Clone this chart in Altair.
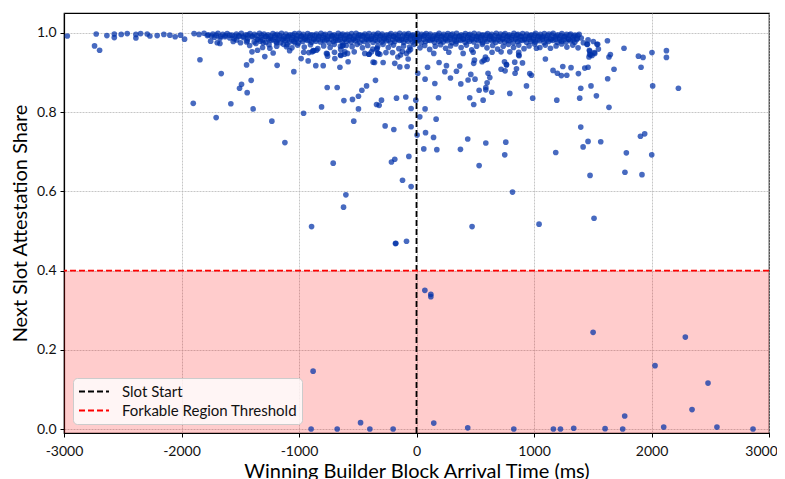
import altair as alt
import pandas as pd

FONT = "Lato"
X_LIMITS = [-3000, 3000]
Y_LIMITS = [-0.01, 1.05]
X_TICKS = [-3000, -2000, -1000, 0, 1000, 2000, 3000]
Y_TICKS = [0.0, 0.2, 0.4, 0.6, 0.8, 1.0]
SLOT_START = 0
FORK_THRESHOLD = 0.4
LEGEND_LABELS = ["Slot Start", "Forkable Region Threshold"]
X_TITLE = "Winning Builder Block Arrival Time (ms)"
Y_TITLE = "Next Slot Attestation Share"

# early arrivals (left tail near 1.0)
tail_pts = [(-2972, 0.992), (-2726, 0.997), (-2740, 0.967), (-2697, 0.956), (-2635, 0.993),
            (-2572, 0.997), (-2572, 0.988), (-2513, 0.996), (-2462, 0.998), (-2388, 0.996),
            (-2388, 0.987), (-2348, 0.998), (-2292, 0.997), (-2269, 0.992), (-2207, 0.993),
            (-2150, 0.996), (-2099, 0.994), (-2054, 0.990), (-2008, 0.994), (-1974, 0.984),
            (-1752, 0.979), (-1696, 0.975), (-1673, 0.973), (-1531, 0.982), (-1446, 0.977),
            (-1367, 0.973), (-1305, 0.975), (-1191, 0.975), (-1101, 0.970), (-1035, 0.975)]

# scattered points before slot start
left_pts = [(-1843, 0.932), (-1662, 0.897), (-1506, 0.860), (-1489, 0.870), (-1900, 0.822),
            (-1580, 0.821), (-1705, 0.786), (-1446, 0.919), (-1404, 0.930), (-1441, 0.849),
            (-1407, 0.880), (-1390, 0.808), (-1353, 0.956), (-1291, 0.940), (-1248, 0.961),
            (-1231, 0.777), (-1186, 0.918), (-1120, 0.723), (-1106, 0.965), (-1044, 0.902),
            (-982, 0.935), (-961, 0.797), (-922, 0.929), (-893, 0.511), (-880, 0.955),
            (-851, 0.956), (-857, 0.917), (-808, 0.813), (-794, 0.917), (-760, 0.862),
            (-766, 0.948), (-757, 0.941), (-709, 0.671), (-698, 0.951), (-695, 0.935),
            (-675, 0.862), (-652, 0.913), (-644, 0.943), (-630, 0.967), (-618, 0.829),
            (-621, 0.560), (-601, 0.591), (-610, 0.952), (-587, 0.948), (-582, 0.927),
            (-545, 0.832), (-534, 0.777), (-494, 0.840), (-494, 0.808), (-465, 0.855),
            (-425, 0.866), (-403, 0.946), (-369, 0.926), (-349, 0.880), (-340, 0.819),
            (-318, 0.817), (-335, 0.961), (-327, 0.948), (-312, 0.946), (-298, 0.830),
            (-267, 0.765), (-284, 0.925), (-213, 0.674), (-185, 0.681), (-176, 0.469),
            (-193, 0.756), (-170, 0.835), (-204, 0.950), (-185, 0.923), (-916, 0.950),
            (-888, 0.952), (-874, 0.955), (-647, 0.966), (-624, 0.969), (-647, 0.944),
            (-613, 0.946), (-440, 0.948), (-406, 0.946), (-383, 0.952), (-340, 0.958),
            (-329, 0.948), (-357, 0.925), (-159, 0.939), (-136, 0.944), (-85, 0.948),
            (-65, 0.954), (-51, 0.958), (-142, 0.914), (-80, 0.915), (-71, 0.934),
            (-91, 0.838), (-46, 0.809), (-46, 0.763), (-6, 0.830), (5, 0.742), (11, 0.898),
            (-65, 0.688), (-119, 0.628), (-46, 0.612), (62, 0.707), (-179, 0.468), (-85, 0.474),
            (-1400, 0.952), (-1220, 0.949), (-1080, 0.955), (-960, 0.951), (-760, 0.947),
            (-530, 0.952), (-260, 0.950), (-120, 0.953)]

# scattered points after slot start
right_pts = [(28, 0.788), (73, 0.808), (77, 0.748), (145, 0.736), (167, 0.782), (173, 0.705),
             (187, 0.836), (156, 0.872), (73, 0.883), (94, 0.913), (192, 0.925), (241, 0.902),
             (255, 0.917), (289, 0.886), (340, 0.903), (368, 0.916), (377, 0.871), (374, 0.706),
             (436, 0.732), (439, 0.881), (453, 0.836), (462, 0.895), (473, 0.511), (487, 0.819),
             (498, 0.883), (533, 0.855), (533, 0.665), (567, 0.830), (590, 0.862), (590, 0.856),
             (601, 0.874), (609, 0.898), (590, 0.722), (624, 0.887), (641, 0.850), (558, 0.927),
             (575, 0.931), (720, 0.908), (751, 0.692), (760, 0.724), (754, 0.904), (766, 0.919),
             (794, 0.847), (817, 0.598), (839, 0.898), (851, 0.909), (836, 0.926), (870, 0.951),
             (873, 0.942), (902, 0.924), (936, 0.866), (964, 0.897), (978, 0.893), (989, 0.835),
             (1021, 0.961), (1043, 0.517), (1097, 0.934), (1162, 0.905), (1185, 0.698),
             (1194, 0.830), (1199, 0.898), (1233, 0.892), (1245, 0.915), (1279, 0.893),
             (1315, 0.912), (1378, 0.897), (1389, 0.835), (1398, 0.860), (1398, 0.762),
             (1418, 0.712), (1432, 0.911), (1460, 0.913), (1455, 0.971), (1460, 0.726),
             (1477, 0.640), (1485, 0.866), (1511, 0.532), (1531, 0.841), (1474, 0.954),
             (1480, 0.944), (1468, 0.939), (1517, 0.948), (1542, 0.971), (1548, 0.959),
             (1568, 0.725), (1627, 0.884), (1638, 0.812), (1625, 0.980), (1638, 0.939),
             (1650, 0.945), (1681, 0.908), (1766, 0.961), (1774, 0.648), (1786, 0.697),
             (1889, 0.941), (1928, 0.938), (1911, 0.913), (1906, 0.739), (1942, 0.745),
             (1919, 0.642), (2004, 0.950), (2002, 0.692), (2010, 0.866), (2127, 0.955),
             (2127, 0.938), (2229, 0.860), (1451, 0.971), (1536, 0.971), (1471, 0.956),
             (1474, 0.946), (1494, 0.943), (1514, 0.950), (487, 0.923), (493, 0.931),
             (587, 0.939), (601, 0.933), (749, 0.927), (766, 0.920), (147, 0.948), (275, 0.951),
             (397, 0.948), (482, 0.951), (643, 0.951), (720, 0.952), (794, 0.952), (870, 0.944)]

# points inside the forkable region
fork_pts = [(-880, 0.146), (-897, 0.0), (-675, 0.0), (-476, 0.016), (-397, 0.0), (-199, 0.0),
            (71, 0.350), (122, 0.340), (122, 0.334), (147, 0.015), (436, 0.003), (828, 0.0),
            (1165, 0.0), (1225, 0.0), (1338, 0.002), (1503, 0.244), (1605, 0.001), (1755, 0.0),
            (1772, 0.033), (2030, 0.160), (2104, 0.005), (2288, 0.232), (2345, 0.049),
            (2481, 0.116), (2557, 0.005), (2864, 0.0)]

# dense band near full attestation
band_a_x = [-1893, -1851, -1808, -1772, -1733, -1690, -1649, -1611, -1570, -1533,
            -1491, -1452, -1417, -1379, -1336, -1298, -1263, -1222, -1186, -1149,
            -1111, -1076, -1037, -999, -964, -926, -887, -852, -813, -777,
            -738, -701, -666, -628, -589, -553, -514, -479, -440, -404,
            -365, -328, -292, -253, -218, -179, -143, -104, -69, -30,
            7, 43, 82, 117, 157, 192, 231, 267, 306, 341,
            381, 416, 455, 491, 530, 565, 605, 640, 679, 715,
            754, 789, 829, 864, 903, 939, 978, 1013, 1053, 1088,
            1127, 1163, 1202, 1237, 1277, 1312, 1349, 1384]
band_a_y = [0.998, 0.996, 0.999, 0.995, 0.997, 0.999, 0.996, 0.998, 0.994, 0.997,
            0.999, 0.995, 0.998, 0.996, 0.999, 0.997, 0.995, 0.998, 0.996, 0.999,
            0.997, 0.995, 0.998, 0.999, 0.996, 0.998, 0.995, 0.997, 0.999, 0.996,
            0.998, 0.995, 0.999, 0.997, 0.996, 0.998, 0.999, 0.995, 0.997, 0.998,
            0.996, 0.999, 0.997, 0.995, 0.998, 0.996, 0.999, 0.997, 0.998, 0.995,
            0.999, 0.996, 0.998, 0.997, 0.995, 0.999, 0.996, 0.998, 0.997, 0.999,
            0.995, 0.998, 0.996, 0.999, 0.997, 0.995, 0.998, 0.996, 0.999, 0.997,
            0.998, 0.995, 0.999, 0.996, 0.998, 0.997, 0.995, 0.999, 0.996, 0.998,
            0.997, 0.999, 0.995, 0.998, 0.996, 0.997, 0.994, 0.996]
band_e_x = [-1780, -1745, -1706, -1668, -1628, -1590, -1548, -1512, -1472, -1434,
            -1396, -1357, -1318, -1280, -1242, -1203, -1166, -1128, -1091, -1053,
            -1016, -978, -941, -904, -866, -829, -791, -754, -717, -679,
            -642, -604, -567, -530, -492, -455, -417, -380, -343, -305,
            -268, -230, -193, -156, -118, -81, -43, -6, 31, 69,
            106, 144, 181, 218, 256, 293, 331, 368, 405, 443,
            480, 518, 555, 592, 630, 667, 705, 742, 779, 817,
            854, 892, 929, 966, 1004, 1041, 1079, 1116, 1153, 1191,
            1228, 1266, 1303, 1340, 1372]
band_e_y = [0.993, 0.992, 0.994, 0.991, 0.993, 0.994, 0.992, 0.993, 0.991, 0.994,
            0.992, 0.993, 0.994, 0.991, 0.992, 0.994, 0.993, 0.991, 0.992, 0.994,
            0.993, 0.992, 0.991, 0.994, 0.993, 0.992, 0.994, 0.991, 0.993, 0.992,
            0.994, 0.993, 0.991, 0.992, 0.994, 0.993, 0.992, 0.991, 0.994, 0.993,
            0.992, 0.994, 0.991, 0.993, 0.992, 0.994, 0.993, 0.991, 0.992, 0.994,
            0.993, 0.991, 0.994, 0.992, 0.993, 0.994, 0.991, 0.992, 0.993, 0.994,
            0.992, 0.991, 0.993, 0.994, 0.992, 0.993, 0.991, 0.994, 0.992, 0.993,
            0.994, 0.991, 0.992, 0.993, 0.994, 0.992, 0.991, 0.993, 0.994, 0.992,
            0.993, 0.991, 0.994, 0.992, 0.993]
band_b_x = [-1718, -1672, -1630, -1589, -1551, -1510, -1473, -1436, -1397, -1357,
            -1320, -1281, -1243, -1205, -1168, -1130, -1094, -1056, -1019, -982,
            -945, -907, -870, -832, -795, -757, -720, -683, -646, -609,
            -571, -534, -497, -459, -422, -385, -347, -310, -272, -235,
            -198, -161, -123, -86, -49, -12, 25, 62, 100, 137,
            174, 212, 249, 287, 324, 361, 399, 436, 473, 511,
            548, 585, 623, 660, 697, 735, 772, 809, 847, 884,
            921, 959, 996, 1033, 1071, 1108, 1145, 1183, 1220, 1258,
            1295, 1332, 1369, 1402]
band_b_y = [0.989, 0.986, 0.990, 0.987, 0.985, 0.991, 0.988, 0.986, 0.990, 0.984,
            0.988, 0.991, 0.986, 0.989, 0.987, 0.985, 0.990, 0.988, 0.986, 0.991,
            0.987, 0.989, 0.985, 0.990, 0.988, 0.986, 0.991, 0.987, 0.989, 0.985,
            0.990, 0.986, 0.988, 0.991, 0.987, 0.985, 0.989, 0.990, 0.986, 0.988,
            0.991, 0.987, 0.985, 0.989, 0.990, 0.986, 0.988, 0.991, 0.987, 0.985,
            0.989, 0.990, 0.986, 0.988, 0.987, 0.991, 0.985, 0.989, 0.986, 0.990,
            0.988, 0.987, 0.991, 0.985, 0.989, 0.986, 0.990, 0.988, 0.987, 0.991,
            0.985, 0.989, 0.986, 0.990, 0.988, 0.987, 0.985, 0.989, 0.986, 0.990,
            0.984, 0.988, 0.986, 0.987]
band_f_x = [-1350, -1310, -1262, -1224, -1180, -1140, -1099, -1062, -1024, -987,
            -949, -912, -874, -837, -799, -762, -725, -687, -650, -612,
            -575, -538, -500, -463, -425, -388, -351, -313, -276, -238,
            -201, -164, -126, -89, -51, -14, 23, 61, 98, 136,
            173, 210, 248, 285, 323, 360, 397, 435, 472, 510,
            547, 584, 622, 659, 697, 734, 771, 809, 846, 884,
            921, 958, 996, 1033, 1071, 1108, 1145, 1183, 1220, 1258,
            1295, 1333, 1364]
band_f_y = [0.983, 0.982, 0.984, 0.983, 0.982, 0.984, 0.983, 0.982, 0.984, 0.983,
            0.984, 0.982, 0.983, 0.984, 0.982, 0.983, 0.984, 0.982, 0.983, 0.984,
            0.982, 0.983, 0.984, 0.982, 0.983, 0.984, 0.982, 0.983, 0.984, 0.982,
            0.983, 0.984, 0.982, 0.983, 0.984, 0.982, 0.983, 0.984, 0.982, 0.983,
            0.984, 0.982, 0.983, 0.984, 0.982, 0.983, 0.984, 0.982, 0.983, 0.984,
            0.982, 0.983, 0.984, 0.982, 0.983, 0.984, 0.982, 0.983, 0.984, 0.982,
            0.983, 0.984, 0.982, 0.983, 0.984, 0.982, 0.983, 0.984, 0.982, 0.983,
            0.984, 0.982, 0.983]
band_c_x = [-1560, -1498, -1440, -1381, -1330, -1282, -1238, -1196, -1157, -1118,
            -1080, -1043, -1005, -968, -930, -893, -856, -818, -781, -744,
            -706, -669, -632, -594, -557, -520, -482, -445, -408, -370,
            -333, -296, -258, -221, -184, -146, -109, -72, -34, 3,
            40, 78, 115, 152, 190, 227, 264, 302, 339, 376,
            414, 451, 488, 526, 563, 600, 638, 675, 712, 750,
            787, 824, 862, 899, 936, 974, 1011, 1048, 1086, 1123,
            1160, 1198, 1235, 1272, 1310, 1347]
band_c_y = [0.978, 0.975, 0.980, 0.977, 0.979, 0.976, 0.981, 0.978, 0.975, 0.980,
            0.977, 0.979, 0.974, 0.978, 0.981, 0.976, 0.979, 0.977, 0.980, 0.975,
            0.978, 0.981, 0.976, 0.979, 0.977, 0.980, 0.975, 0.978, 0.981, 0.976,
            0.979, 0.977, 0.980, 0.975, 0.978, 0.981, 0.976, 0.979, 0.977, 0.980,
            0.975, 0.978, 0.981, 0.976, 0.979, 0.977, 0.980, 0.975, 0.978, 0.981,
            0.976, 0.979, 0.977, 0.980, 0.975, 0.978, 0.981, 0.976, 0.979, 0.977,
            0.980, 0.975, 0.978, 0.981, 0.976, 0.979, 0.977, 0.980, 0.975, 0.978,
            0.981, 0.976, 0.979, 0.977, 0.980, 0.976]
band_d_x = [-1420, -1310, -1255, -1190, -1132, -1060, -1012, -955, -902, -840,
            -790, -735, -700, -645, -598, -548, -505, -460, -415, -372,
            -330, -285, -240, -196, -150, -110, -58, -20, 30, 70,
            112, 160, 205, 248, 290, 335, 380, 425, 470, 512,
            560, 600, 648, 690, 738, 782, 826, 870, 915, 958,
            1005, 1050, 1096, 1140, 1188, 1235, 1280, 1330, 1375, 1420,
            1460, 1505]
band_d_y = [0.968, 0.963, 0.970, 0.966, 0.971, 0.962, 0.969, 0.964, 0.970, 0.960,
            0.967, 0.963, 0.971, 0.958, 0.968, 0.965, 0.971, 0.962, 0.968, 0.959,
            0.966, 0.971, 0.963, 0.969, 0.960, 0.967, 0.964, 0.971, 0.962, 0.968,
            0.958, 0.966, 0.970, 0.961, 0.967, 0.972, 0.963, 0.969, 0.957, 0.966,
            0.971, 0.962, 0.968, 0.959, 0.966, 0.971, 0.963, 0.969, 0.960, 0.967,
            0.972, 0.963, 0.969, 0.961, 0.967, 0.972, 0.964, 0.969, 0.962, 0.975,
            0.982, 0.978]

rows = []
for group in (tail_pts, left_pts, right_pts, fork_pts):
    for t, s in group:
        rows.append({"t": t, "share": s})
for xs, ys in ((band_a_x, band_a_y), (band_e_x, band_e_y), (band_b_x, band_b_y),
               (band_f_x, band_f_y), (band_c_x, band_c_y), (band_d_x, band_d_y)):
    for t, s in zip(xs, ys):
        rows.append({"t": t, "share": s})
points_df = pd.DataFrame(rows)

xscale = alt.Scale(domain=X_LIMITS, nice=False, zero=False)
yscale = alt.Scale(domain=Y_LIMITS, nice=False, zero=False)
xaxis = alt.Axis(title=X_TITLE, values=X_TICKS, labelExpr="'' + datum.value", grid=True,
                 labelFlush=False, labelOverlap=False,
                 labelOffset={"condition": {"test": "datum.value == %d" % X_LIMITS[1], "value": -8},
                              "value": 0})
yaxis = alt.Axis(title=Y_TITLE, values=Y_TICKS, format=".1f", grid=True,
                 labelFlush=False, labelOverlap=False)

region_df = pd.DataFrame({"x0": [X_LIMITS[0]], "x1": [X_LIMITS[1]],
                          "y0": [Y_LIMITS[0]], "y1": [FORK_THRESHOLD]})
region = alt.Chart(region_df).mark_rect(color="#ff0000", opacity=0.2).encode(
    x=alt.X("x0:Q", scale=xscale, axis=xaxis), x2="x1:Q",
    y=alt.Y("y0:Q", scale=yscale, axis=yaxis), y2="y1:Q")

points = alt.Chart(points_df).mark_circle(size=32, color="#0030a8", opacity=0.72).encode(
    x=alt.X("t:Q", scale=xscale, axis=xaxis),
    y=alt.Y("share:Q", scale=yscale, axis=yaxis))

legend = alt.Legend(title=None, orient="bottom-left", offset=9, symbolType="M-1,0H3",
                    symbolSize=225, symbolStrokeWidth=1.8, symbolDash=[6, 3],
                    labelFont=FONT, labelFontSize=15, labelColor="#111111", labelOffset=27,
                    labelLimit=400,
                    fillColor="rgba(255,255,255,0.8)", strokeColor="#cccccc", cornerRadius=4,
                    padding=5, rowPadding=2)
color = alt.Color("label:N", scale=alt.Scale(domain=LEGEND_LABELS, range=["#000000", "#ff0000"]),
                  legend=legend)

slot_df = pd.DataFrame({"label": [LEGEND_LABELS[0]], "t": [SLOT_START]})
thr_df = pd.DataFrame({"label": [LEGEND_LABELS[1]], "share": [FORK_THRESHOLD]})

slot_rule = alt.Chart(slot_df).mark_rule(strokeDash=[6, 3], strokeWidth=1.8).encode(
    x=alt.X("t:Q", scale=xscale, axis=xaxis), color=color)
thr_rule = alt.Chart(thr_df).mark_rule(strokeDash=[6, 3], strokeWidth=1.8).encode(
    y=alt.Y("share:Q", scale=yscale, axis=yaxis), color=color)

chart = alt.layer(region, points, slot_rule, thr_rule).properties(
    width=705, height=420,
    autosize=alt.AutoSizeParams(type="none"),
    padding={"left": 56, "top": 5, "right": 8, "bottom": 52},
).configure_view(
    stroke="#000000", strokeWidth=1.2
).configure_axis(
    domainColor="#000000", domainWidth=1.2, tickColor="#000000", tickSize=4, tickWidth=1,
    labelFont=FONT, labelFontSize=14, labelColor="#111111", labelPadding=4,
    titleFont=FONT, titleFontSize=20, titleFontWeight="normal", titleColor="#000000",
    gridColor="#b8b8b8", gridDash=[2, 1], gridWidth=0.8
).configure_axisY(titlePadding=6).configure_axisX(titlePadding=3.5, labelPadding=7)

chart.save("out.html", embed_options={"renderer": "svg", "actions": False})
